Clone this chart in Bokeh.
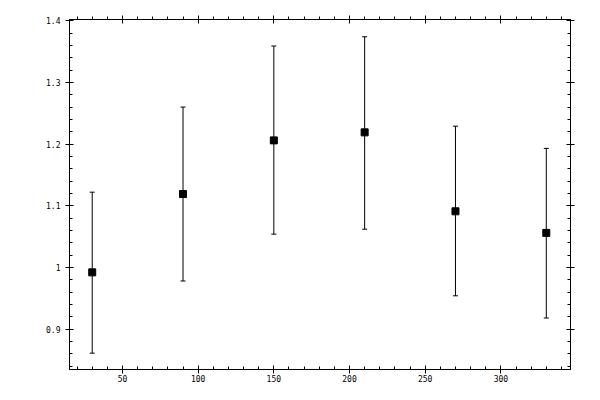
from bokeh.plotting import figure
from bokeh.models import (LinearAxis, SingleIntervalTicker, CustomJSTickFormatter,
                          Whisker, TeeHead, ColumnDataSource, Range1d)
from bokeh.embed import file_html
from bokeh.resources import INLINE

# Data
x_vals = [30, 90, 150, 210, 270, 330]
y_vals = [0.992, 1.119, 1.206, 1.219, 1.091, 1.056]
y_upper = [1.122, 1.260, 1.359, 1.374, 1.229, 1.193]
y_lower = [0.861, 0.978, 1.054, 1.062, 0.954, 0.918]

src = ColumnDataSource(dict(x=x_vals, y=y_vals, upper=y_upper, lower=y_lower))

p = figure(width=584, height=384, output_backend="svg", toolbar_location=None,
           x_range=Range1d(15, 346), y_range=Range1d(0.8345, 1.402),
           x_axis_location=None, y_axis_location=None)
p.min_border_left = 69
p.min_border_top = 19
p.min_border_right = 14
p.min_border_bottom = 14
p.xgrid.visible = False
p.ygrid.visible = False
p.outline_line_color = "black"
p.outline_line_width = 1
p.background_fill_color = "white"
p.border_fill_color = "white"

FONT = "DejaVu Sans Mono"

def style(ax, minor_in, minor_out, labels=True, standoff=4):
    ax.axis_line_color = "black"
    ax.major_tick_line_color = "black"
    ax.minor_tick_line_color = "black"
    ax.major_tick_in = 4
    ax.major_tick_out = 4
    ax.minor_tick_in = minor_in
    ax.minor_tick_out = minor_out
    ax.major_label_text_font = FONT
    ax.major_label_text_font_size = "8px"
    ax.major_label_text_color = "black"
    ax.major_label_standoff = standoff
    if not labels:
        ax.formatter = CustomJSTickFormatter(code="return '';")

num_fmt = "return String(parseFloat(tick.toFixed(3)));"

xb = LinearAxis(ticker=SingleIntervalTicker(interval=50, num_minor_ticks=5),
                formatter=CustomJSTickFormatter(code=num_fmt))
style(xb, 3, 0, standoff=1)
p.add_layout(xb, "below")

xt = LinearAxis(ticker=SingleIntervalTicker(interval=50, num_minor_ticks=5))
style(xt, 0, 3, labels=False)
p.add_layout(xt, "above")

yl = LinearAxis(ticker=SingleIntervalTicker(interval=0.1, num_minor_ticks=5),
                formatter=CustomJSTickFormatter(code=num_fmt))
style(yl, 3, 0, standoff=5)
p.add_layout(yl, "left")

yr = LinearAxis(ticker=SingleIntervalTicker(interval=0.1, num_minor_ticks=5))
style(yr, 3, 0, labels=False)
p.add_layout(yr, "right")

w = Whisker(source=src, base="x", upper="upper", lower="lower",
            line_color="black", line_width=1,
            upper_head=TeeHead(size=5, line_color="black", line_width=1),
            lower_head=TeeHead(size=5, line_color="black", line_width=1))
p.add_layout(w)

p.scatter("x", "y", source=src, marker="square", size=7,
          fill_color="black", line_color="black")

open("out.html", "w").write(file_html(p, INLINE))
